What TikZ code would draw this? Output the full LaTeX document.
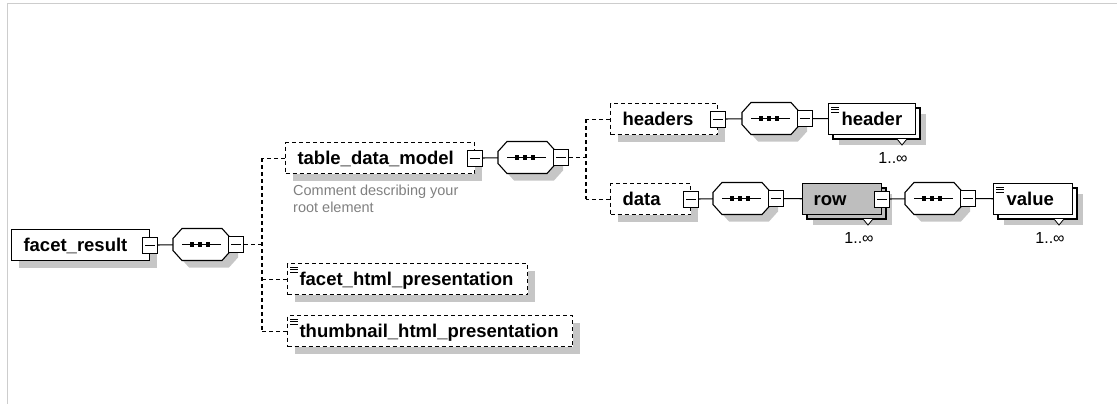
\documentclass[tikz,border=0pt]{standalone}
\usepackage{fontspec}
\setmainfont{Liberation Sans}
\usetikzlibrary{shadows}
\hyphenpenalty=10000

\definecolor{shadowgray}{RGB}{198,198,198}
\definecolor{rowgray}{RGB}{190,190,190}
\definecolor{framegray}{RGB}{205,205,205}
\definecolor{commentgray}{RGB}{128,128,128}

\newcommand{\elemfont}{\fontsize{18.5}{20}\selectfont\bfseries}
\newcommand{\multfont}{\fontsize{16}{18}\selectfont}
\newcommand{\notefont}{\fontsize{14.5}{17}\selectfont}

\tikzset{
  boxline/.style={line width=1.1pt},
  optline/.style={line width=1.1pt, dash pattern=on 4pt off 3pt},
  thinline/.style={line width=0.8pt},
  box/.style={draw, boxline, fill=white, anchor=north west, minimum height=31pt,
    inner xsep=12pt, inner ysep=0pt, text height=13pt, text depth=0pt,
    align=left, font=\elemfont},
  elem/.style={box, drop shadow={shadow xshift=7pt, shadow yshift=-7pt, opacity=1, fill=shadowgray}},
  optelem/.style={elem, dash pattern=on 4pt off 3pt},
  pm/.style={draw, boxline, fill=white, minimum width=15pt, minimum height=16pt, inner sep=0pt,
    path picture={\draw[boxline] ([xshift=2.5pt]path picture bounding box.west) -- ([xshift=-2.5pt]path picture bounding box.east);}},
  seqbox/.style={minimum width=58pt, minimum height=32pt, inner sep=0pt},
  mult/.style={font=\multfont, inner sep=0pt},
  note/.style={anchor=north west, align=left, font=\notefont, text=commentgray, inner sep=0pt},
}

% octagon of a sequence, #1 left, #2 centre y
\newcommand{\octo}[2]{(#1,#2-6) -- (#1+9,#2-16) -- (#1+49,#2-16) -- (#1+58,#2-6) -- (#1+58,#2+6) -- (#1+49,#2+16) -- (#1+9,#2+16) -- (#1,#2+6) -- cycle}

% sequence compositor: name, left, centre y
\newcommand{\seqgroup}[3]{%
  \fill[shadowgray, shift={(7,7)}] \octo{#2}{#3};
  \draw[boxline, fill=white] \octo{#2}{#3};
  \node[seqbox] (#1) at (#2+29,#3) {};
  \draw[boxline] (#2+9,#3) -- (#2+48,#3);
  \foreach \dx in {19,27,35} \fill (#2+\dx-2.25,#3-2.25) rectangle ++(4.5,4.5);
  \node[pm] (#1pm) at (#2+63,#3) {};
}

% copies behind an element with 1..oo: left, top, width, fill, label name
\newcommand{\multiback}[5]{%
  \fill[shadowgray] (#1+11,#2+11) rectangle (#1+#3+11,#2+42);
  \draw[boxline, fill=#4] (#1+5,#2+5) rectangle (#1+#3+5,#2+36);
  \draw[thinline, fill=white] (#1+#3-18,#2+36) -- (#1+#3-13,#2+42) -- (#1+#3-8,#2+36);
  \node[mult] (#5) at (#1+#3-22,#2+55) {1..∞};
}

% simple content mark
\newcommand{\simpleicon}[2]{\draw[thinline] (#1+3,#2+4) -- ++(8,0) (#1+3,#2+6.5) -- ++(8,0) (#1+3,#2+9) -- ++(8,0);}

\begin{document}
\begin{tikzpicture}[x=1pt, y=-1pt]
\useasboundingbox (0,0) rectangle (1117,404);
\draw[framegray, line width=1pt] (7,404) -- (7,4) -- (1117,4);

% root element
\node[elem, text width=114pt] (fr) at (11,229) {facet\_result};
\node[pm] (frpm) at (fr.east) {};
\seqgroup{sa}{173}{244.5}
\draw[boxline] (frpm) -- (sa);

\node[optelem, text width=165pt] (tdm) at (285,142) {table\_data\_model};
\node[optelem, text width=216pt] (fhp) at (287,263) {facet\_html\_presentation};
\simpleicon{287}{263}
\node[optelem, text width=261pt] (thp) at (287,315) {thumbnail\_html\_presentation};
\simpleicon{287}{315}
\node[note] (tdmnote) at (293,185) {Comment describing your\\root element};
\coordinate (trunka) at (262,244.5);
\draw[optline] (sapm) -- (trunka);
\draw[optline] (tdm.west -| trunka) -- (thp.west -| trunka);
\draw[optline] (tdm.west) -- (tdm.west -| trunka);
\draw[optline] (fhp.west) -- (fhp.west -| trunka);
\draw[optline] (thp.west) -- (thp.west -| trunka);

% table_data_model
\node[pm] (tdmpm) at (tdm.east) {};
\seqgroup{sb}{498}{157.5}
\draw[boxline] (tdmpm) -- (sb);
\node[optelem, text width=83pt] (hdrs) at (610,103) {headers};
\node[optelem, text width=56pt] (data) at (610,183) {data};
\coordinate (trunkb) at (586,157.5);
\draw[optline] (sbpm) -- (trunkb);
\draw[optline] (hdrs.west -| trunkb) -- (data.west -| trunkb);
\draw[optline] (hdrs.west) -- (hdrs.west -| trunkb);
\draw[optline] (data.west) -- (data.west -| trunkb);

% headers
\node[pm] (hdrspm) at (hdrs.east) {};
\seqgroup{sc}{742}{118.5}
\draw[boxline] (hdrspm) -- (sc);
\multiback{828}{103}{87}{white}{hdrmult}
\node[box, inner xsep=13pt, text width=61pt] (hdr) at (828,103) {header};
\simpleicon{828}{103}
\draw[boxline] (scpm) -- (hdr);

% data
\node[pm] (datapm) at (data.east) {};
\seqgroup{sd}{713}{198.5}
\draw[boxline] (datapm) -- (sd);
\multiback{802}{183}{79}{rowgray}{rowmult}
\node[box, fill=rowgray, inner xsep=11pt, text width=57pt] (row) at (802,183) {row};
\node[pm] (rowpm) at (row.east) {};
\draw[boxline] (sdpm) -- (row);
\seqgroup{se}{905}{198.5}
\draw[boxline] (rowpm) -- (se);
\multiback{993}{183}{79}{white}{valmult}
\node[box, inner xsep=13pt, text width=53pt] (val) at (993,183) {value};
\simpleicon{993}{183}
\draw[boxline] (sepm) -- (val);
\end{tikzpicture}
\end{document}
